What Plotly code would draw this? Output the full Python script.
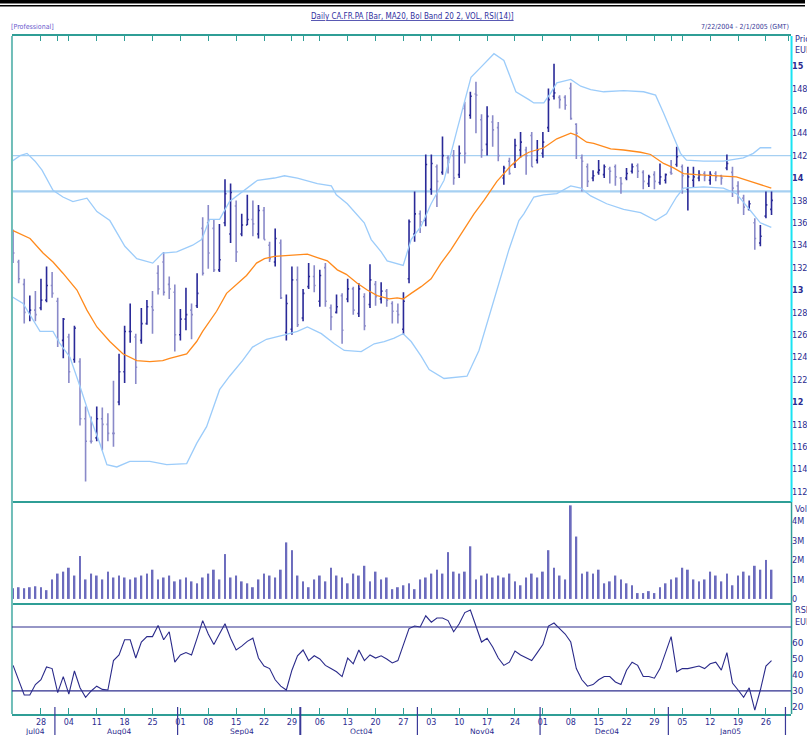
import plotly.graph_objects as go

# ---------------- data ----------------
bar_idx = list(range(137))
opens = [13.45,13.25,13.05,12.80,12.82,12.84,12.91,13.04,12.90,12.55,12.58,12.38,12.36,11.85,11.65,11.68,11.85,11.80,11.72,12.00,
         12.27,12.63,12.58,12.55,12.70,12.85,13.15,13.25,13.05,12.98,12.60,12.74,12.82,12.86,13.55,13.60,13.55,13.18,13.60,13.50,
         13.75,13.50,13.58,13.63,13.50,13.71,13.40,13.25,13.42,12.62,12.65,13.09,12.75,13.03,13.12,12.90,13.20,12.84,12.80,12.95,
         12.92,13.01,12.79,12.94,12.87,13.05,12.92,12.99,12.88,12.81,12.65,13.10,13.50,13.68,13.62,13.90,14.10,14.05,14.18,14.20,
         14.03,14.62,14.56,14.75,14.52,14.30,14.50,14.45,14.00,14.15,14.12,14.25,14.25,14.38,14.16,14.22,14.45,14.73,14.72,14.72,
         14.80,14.48,14.18,14.10,14.00,14.05,14.03,14.08,14.10,14.00,14.00,14.06,14.11,14.05,13.95,14.03,13.96,13.98,14.05,14.12,
         14.10,13.90,13.98,14.00,14.04,13.98,14.04,14.02,14.09,14.05,13.93,13.82,13.72,13.60,13.42,13.66,13.72]
highs = [13.54,13.27,13.10,12.95,12.99,13.10,13.21,13.16,12.93,12.75,12.61,12.68,12.39,11.96,11.87,11.96,11.95,11.90,12.19,12.43,
         12.68,12.88,12.61,12.84,12.91,12.99,13.22,13.34,13.12,13.05,12.83,13.02,12.88,13.15,13.65,13.76,13.63,13.59,13.99,13.95,
         13.80,13.68,13.85,13.80,13.76,13.74,13.43,13.55,13.45,12.96,13.21,13.21,13.01,13.24,13.22,13.18,13.24,12.87,12.96,12.97,
         13.10,13.03,13.06,12.97,13.23,13.08,13.07,13.01,12.90,12.88,12.98,13.63,13.88,13.71,14.21,14.21,14.12,14.37,14.20,14.25,
         14.29,14.68,14.77,14.86,14.57,14.64,14.56,14.50,14.11,14.18,14.35,14.41,14.28,14.41,14.34,14.41,14.80,15.02,14.74,14.74,
         14.85,14.49,14.21,14.13,14.07,14.16,14.12,14.10,14.12,14.01,14.09,14.13,14.13,14.07,14.03,14.06,14.13,14.04,14.16,14.28,
         14.12,14.10,14.10,14.07,14.06,14.06,14.06,14.03,14.21,14.10,13.97,13.85,13.80,13.64,13.58,13.88,13.88]
lows = [13.24,13.06,12.70,12.72,12.72,12.82,12.89,12.93,12.49,12.39,12.17,12.35,11.79,11.29,11.63,11.65,11.57,11.65,11.60,11.97,
        12.17,12.53,12.16,12.52,12.69,12.61,12.96,12.95,12.92,12.45,12.55,12.64,12.56,12.84,13.13,13.19,13.16,13.16,13.57,13.42,
        13.25,13.48,13.58,13.48,13.46,13.45,13.25,13.21,12.92,12.55,12.60,12.67,12.72,13.01,12.98,12.85,12.85,12.64,12.79,12.52,
        12.89,12.78,12.76,12.64,12.84,12.86,12.88,12.85,12.70,12.70,12.60,13.06,13.43,13.51,13.57,13.85,13.74,14.03,14.04,13.94,
        14.00,14.13,14.53,14.40,14.18,14.20,14.28,14.15,13.94,14.03,14.09,14.18,14.03,14.10,14.13,14.18,14.41,14.70,14.62,14.61,
        14.52,14.17,13.88,13.92,13.97,14.03,14.00,13.95,13.93,13.86,13.98,14.04,14.00,13.90,13.92,13.90,13.94,13.95,14.03,14.10,
        13.86,13.71,13.92,13.97,13.97,13.94,13.97,13.94,14.07,13.83,13.77,13.67,13.71,13.36,13.39,13.64,13.67]
closes = [13.33,13.10,12.80,12.82,12.78,12.91,13.04,12.97,12.55,12.74,12.27,12.66,11.85,11.65,11.65,11.85,11.80,11.72,11.72,12.27,
          12.63,12.63,12.31,12.70,12.85,12.82,13.01,12.98,13.01,12.60,12.74,12.78,12.78,12.97,13.15,13.33,13.18,13.27,13.86,13.87,
          13.34,13.58,13.63,13.59,13.71,13.45,13.28,13.46,12.93,12.88,13.09,12.69,12.97,13.12,13.04,13.13,12.90,12.76,12.85,12.64,
          13.01,12.82,13.01,12.68,13.09,12.94,12.99,12.91,12.81,12.78,12.90,13.61,13.68,13.61,14.12,14.13,13.97,14.20,14.14,14.00,
          14.22,14.22,14.73,14.74,14.25,14.55,14.43,14.20,14.09,14.04,14.29,14.32,14.20,14.10,14.25,14.32,14.70,14.76,14.70,14.65,
          14.53,14.40,14.15,13.97,14.02,14.07,14.10,14.06,14.01,13.95,14.04,14.10,14.06,13.97,14.01,13.97,14.01,14.03,14.04,14.19,
          14.02,14.01,14.01,14.03,14.02,14.03,14.01,14.00,14.13,13.91,13.88,13.74,13.77,13.46,13.48,13.76,13.80]
volume_m = [0.55,0.6,0.55,0.6,0.65,0.6,0.45,1.0,1.3,1.4,1.6,1.2,2.2,1.0,1.3,1.2,1.0,1.4,1.1,1.2,
            1.1,1.0,1.1,1.2,1.3,1.5,1.0,1.1,1.2,0.9,1.0,1.1,0.9,0.8,1.1,1.3,1.5,1.0,2.3,1.1,
            1.2,0.9,0.8,0.6,1.0,1.3,1.2,1.1,1.5,2.9,2.5,1.2,0.9,0.6,1.0,1.2,0.9,1.6,1.2,1.1,
            0.8,1.3,1.2,1.7,0.9,1.4,1.0,1.1,0.5,0.6,0.7,0.8,0.5,1.0,1.1,1.3,1.5,1.3,2.4,1.4,
            1.3,1.4,2.7,1.0,1.2,1.3,1.1,1.2,1.1,1.3,0.9,0.7,1.1,1.3,1.1,1.4,2.5,1.6,1.2,1.0,
            4.8,3.2,1.3,1.4,1.3,1.5,0.8,0.9,1.2,1.0,0.8,0.7,0.3,0.3,0.4,0.3,0.6,0.8,1.0,1.1,
            1.6,1.5,1.0,0.9,1.0,1.4,1.2,0.9,1.3,0.7,1.2,1.4,1.2,1.7,1.5,2.0,1.5]
rsi = [46,37,27.5,27.5,34,37,45,44,29,39,28,42.5,32,26,30,33,31,30.6,49,52.5,
       62,62,50.6,60.6,64,64,71,62,67,48,52.5,54,52.5,63,74,65.6,59,65.6,72,63,
       55.6,58,61,63,50.6,45.6,44,37,33,30.6,43,52,55.6,49,52,50,46,44,42,39,
       50.6,47,55.6,49,52.5,50.6,52,50,47.5,49,59,69,70.6,70,77,73,75.6,75.6,74,67,
       72,79,80.6,71,60.6,63,57.5,50.6,46,48,55,52.5,50.6,49,54,59,70.6,72.5,69,65.6,
       60.6,44,37,33,34,37,39,39,35.6,34,43,48,46,39,39,38,44,54,64,42,
       44,44,45,45.6,44,47,48,43,54,35,30.6,26,32,18,30.6,45.6,49]

ma_x = [0,3.04,5.37,7.16,8.94,11.45,13.24,15.03,17.35,19.68,22.18,24.51,26.83,28.09,31.13,32.92,33.99,36.49,38.28,40.61,
        41.86,43.65,45.08,46.87,49.91,52.77,54.56,56.35,58.14,59.75,61.72,63.51,65.30,67.44,68.87,69.95,71.38,73.17,74.96,76.74,
        78.53,80.86,82.65,84.44,86.76,89.27,91.06,92.49,93.92,95.17,97.50,100.0,101.07,102.86,104.11,107.16,109.48,112.52,114.31,116.64,
        118.43,120.21,122.54,126.12,129.70,132.20,133.99,135.96]
ma_y = [13.53,13.46,13.33,13.25,13.15,13.00,12.82,12.67,12.54,12.43,12.37,12.36,12.37,12.39,12.43,12.54,12.63,12.81,12.97,13.07,
        13.13,13.24,13.28,13.30,13.31,13.32,13.29,13.26,13.18,13.14,13.06,13.00,12.95,12.92,12.93,12.92,12.97,13.03,13.10,13.24,
        13.36,13.54,13.68,13.80,13.97,14.11,14.19,14.23,14.25,14.27,14.35,14.40,14.38,14.32,14.31,14.26,14.25,14.23,14.21,14.13,
        14.09,14.04,14.03,14.02,14.01,13.97,13.94,13.91]
up_x = [-0.18,1.25,2.5,3.94,5.19,7.16,8.94,10.73,13.24,15.03,17.35,20.04,22.18,25.04,26.83,29.34,32.20,33.81,35.24,37.03,
        38.82,41.14,43.83,46.87,48.66,50.98,54.56,57.07,57.96,59.93,62.97,64.22,66.01,67.08,69.95,71.38,73.17,74.96,77.28,79.61,
        82.11,83.90,86.23,88.01,90.16,92.49,93.38,95.17,96.42,97.50,100.0,101.79,103.58,105.90,109.48,113.06,115.21,116.64,118.43,119.68,
        120.75,123.79,127.37,130.95,132.74,133.99,135.96]
up_y = [14.15,14.20,14.22,14.15,14.07,13.89,13.83,13.79,13.82,13.70,13.62,13.39,13.28,13.24,13.33,13.34,13.40,13.45,13.63,13.63,
        13.79,13.88,13.98,14.00,14.02,14.00,13.95,13.93,13.85,13.77,13.60,13.45,13.34,13.26,13.22,13.45,13.57,13.77,13.98,14.43,
        14.90,14.99,15.11,15.05,14.77,14.70,14.67,14.67,14.76,14.85,14.88,14.82,14.79,14.77,14.78,14.77,14.74,14.58,14.37,14.22,
        14.16,14.15,14.15,14.18,14.22,14.27,14.27]
lo_x = [-0.18,1.79,4.83,7.16,8.41,10.20,11.99,13.77,15.56,16.82,18.60,20.93,24.51,27.55,31.13,32.92,34.70,37.03,38.82,41.14,
        42.93,45.44,48.66,50.98,52.77,55.28,57.60,59.39,62.43,64.76,66.55,68.34,69.95,71.38,73.17,74.60,77.28,81.40,83.54,86.23,
        88.91,90.70,91.59,93.38,95.17,97.50,100.0,101.79,103.58,106.44,109.48,112.52,115.21,117.17,118.96,120.21,123.79,127.37,129.70,132.20,
        133.99,135.96]
lo_y = [12.94,12.88,12.63,12.63,12.52,12.40,12.14,11.87,11.63,11.44,11.42,11.47,11.47,11.44,11.45,11.63,11.78,12.11,12.23,12.37,
        12.49,12.56,12.60,12.63,12.67,12.61,12.52,12.46,12.45,12.52,12.54,12.57,12.61,12.54,12.41,12.29,12.21,12.23,12.46,12.91,
        13.36,13.62,13.68,13.83,13.85,13.86,13.93,13.91,13.84,13.77,13.72,13.69,13.62,13.68,13.83,13.91,13.92,13.91,13.86,13.71,
        13.60,13.56]
hlines = [14.20, 13.88]

price_ticks = [15.0,14.8,14.6,14.4,14.2,14.0,13.8,13.6,13.4,13.2,13.0,12.8,12.6,12.4,12.2,12.0,11.8,11.6,11.4,11.2]
price_labels = ["<b>15</b>","148","146","144","142","<b>14</b>","138","136","134","132","<b>13</b>","128","126","124","122",
                "<b>12</b>","118","116","114","112"]
vol_ticks = [0, 1, 2, 3, 4]
vol_labels = ["0", "1M", "2M", "3M", "4M"]
rsi_ticks = [20, 30, 40, 50, 60]
rsi_levels = [70, 30]
week_pos = [5,10,15,20,25,30,35,40,45,50,55,60,65,70,75,80,85,90,95,100,105,110,115,120,125,130,135]
week_labels = ["28","04","11","18","25","01","08","15","22","29","06","13","20","27","03","10","17","24","01","08",
               "15","22","29","05","12","19","26"]
month_pos = [4, 19, 41, 62.5, 84, 106.5, 128.5]
month_labels = ["Jul04", "Aug04", "Sep04", "Oct04", "Nov04", "Dec04", "Jan05"]
month_bounds = [8, 30, 52, 73, 95, 118, 139]

# ---------------- layout helpers ----------------
W, H = 807, 735
def py(p):
    return 1 - p / H
def px(p):
    return p / W

NAVY = "#2b2b8f"
TEAL = "#2f9e96"
CYAN = "#19e3f2"
XR = [-0.2, 139.5]
XD = [px(12), px(793)]
FONT_N = "Liberation Sans Narrow, DejaVu Sans Condensed, Arial Narrow, sans-serif"

fig = go.Figure()
fig.add_trace(go.Ohlc(x=bar_idx, open=opens, high=highs, low=lows, close=closes,
                      increasing=dict(line=dict(color="#2a2a98", width=1.6)),
                      decreasing=dict(line=dict(color="#8a8ac9", width=1.6)),
                      tickwidth=0.25, xaxis="x", yaxis="y", showlegend=False))
fig.add_trace(go.Scatter(x=up_x, y=up_y, mode="lines", line=dict(color="#9cccfa", width=1.3),
                         xaxis="x", yaxis="y", showlegend=False))
fig.add_trace(go.Scatter(x=lo_x, y=lo_y, mode="lines", line=dict(color="#9cccfa", width=1.3),
                         xaxis="x", yaxis="y", showlegend=False))
fig.add_trace(go.Scatter(x=ma_x, y=ma_y, mode="lines", line=dict(color="#ff8a1c", width=1.3),
                         xaxis="x", yaxis="y", showlegend=False))
fig.add_trace(go.Bar(x=bar_idx, y=[v * 1e6 for v in volume_m], width=0.33,
                     marker=dict(color="#6b6bbd", line=dict(width=0)), xaxis="x2", yaxis="y2", showlegend=False))
fig.add_trace(go.Scatter(x=bar_idx, y=rsi, mode="lines", line=dict(color="#2a2a8a", width=1.1),
                         xaxis="x3", yaxis="y3", showlegend=False))

tickfont = dict(family=FONT_N, size=9, color=NAVY)
fig.update_layout(
    width=W, height=H, margin=dict(l=0, r=0, t=0, b=0),
    paper_bgcolor="white", plot_bgcolor="white", showlegend=False,
    xaxis=dict(domain=XD, range=XR, anchor="y", side="top", showline=True, linecolor=TEAL, linewidth=1.5,
               ticks="inside", ticklen=5, tickcolor=TEAL, tickvals=week_pos + month_bounds, showticklabels=False,
               showgrid=False, zeroline=False, rangeslider=dict(visible=False), fixedrange=True),
    yaxis=dict(domain=[py(502), py(36)], range=[11.107, 15.268], side="right", anchor="x",
               showline=False, ticks="", tickvals=price_ticks, ticktext=price_labels, tickfont=tickfont,
               showgrid=False, zeroline=False),
    xaxis2=dict(domain=XD, range=XR, anchor="y2", side="top", showline=True, linecolor=TEAL, linewidth=1.5,
                ticks="", showticklabels=False, showgrid=False, zeroline=False),
    yaxis2=dict(domain=[py(604), py(503)], range=[-0.26e6, 4.92e6], side="right", anchor="x2",
                showline=False, ticks="", tickvals=[v * 1e6 for v in vol_ticks], ticktext=vol_labels,
                tickfont=dict(family=FONT_N, size=9, color=NAVY), showgrid=False, zeroline=False),
    xaxis3=dict(domain=XD, range=XR, anchor="y3", side="bottom", showline=True, mirror=True, linecolor=TEAL,
                linewidth=1.5, ticks="inside", ticklen=6, tickcolor=TEAL, tickvals=week_pos, ticktext=week_labels,
                tickfont=dict(family="DejaVu Sans", size=8, color=NAVY), showgrid=False, zeroline=False),
    yaxis3=dict(domain=[py(714), py(605)], range=[15.6, 83.75], side="right", anchor="x3",
                showline=False, ticks="", tickvals=rsi_ticks, ticktext=[str(t) for t in rsi_ticks],
                tickfont=dict(family="DejaVu Sans", size=9, color=NAVY), showgrid=False, zeroline=False),
)

shapes = []
shapes.append(dict(type="rect", xref="paper", yref="paper", x0=0, x1=1, y0=py(3.5), y1=1,
                   fillcolor="black", line=dict(width=0)))
shapes.append(dict(type="line", xref="paper", yref="paper", x0=0, x1=1, y0=py(5.8), y1=py(5.8),
                   line=dict(color="black", width=1.5)))
shapes.append(dict(type="line", xref="paper", yref="paper", x0=px(12), x1=px(12), y0=py(714), y1=py(36),
                   line=dict(color="#6fbdb8", width=2)))
shapes.append(dict(type="line", xref="paper", yref="paper", x0=px(793.5), x1=px(793.5), y0=py(502), y1=py(36),
                   line=dict(color=CYAN, width=2)))
shapes.append(dict(type="line", xref="paper", yref="paper", x0=px(793.5), x1=px(793.5), y0=py(714), y1=py(502),
                   line=dict(color=TEAL, width=1.5)))
for i, h in enumerate(hlines):
    shapes.append(dict(type="line", xref="paper", yref="y", x0=XD[0], x1=XD[1], y0=h, y1=h,
                       line=dict(color="#a6d0f2", width=1.2 if i == 0 else 2.2), layer="below"))
for lv in rsi_levels:
    shapes.append(dict(type="line", xref="paper", yref="y3", x0=XD[0], x1=XD[1], y0=lv, y1=lv,
                       line=dict(color="#2e2e8e", width=1.2)))
for k, b in enumerate(month_bounds):
    shapes.append(dict(type="line", xref="x3", yref="paper", x0=b - 0.5, x1=b - 0.5, y0=0, y1=py(707),
                       line=dict(color="#3a3a98", width=2 if k == 2 else 1.2)))
fig.update_layout(shapes=shapes)

ann = []
ann.append(dict(text="<u>Daily CA.FR.PA [Bar, MA20, Bol Band 20 2, VOL, RSI(14)]</u>", xref="paper", yref="paper",
                x=px(414), y=py(17), xanchor="center", yanchor="middle", showarrow=False,
                font=dict(family=FONT_N, size=8, color="#3030a0")))
ann.append(dict(text="[Professional]", xref="paper", yref="paper", x=px(9), y=py(27), xanchor="left",
                yanchor="middle", showarrow=False, font=dict(family=FONT_N, size=7, color="#6a5acd")))
ann.append(dict(text="7/22/2004 - 2/1/2005 (GMT)", xref="paper", yref="paper", x=px(793), y=py(27), xanchor="right",
                yanchor="middle", showarrow=False, font=dict(family=FONT_N, size=7, color="#3a3a98")))
for t, yy in [("Price", 39), ("EUR", 50), ("Vol", 509), ("RSI", 610), ("EUR", 622)]:
    ann.append(dict(text=t, xref="paper", yref="paper", x=px(795), y=py(yy), xanchor="left", yanchor="middle",
                    showarrow=False, font=dict(family=FONT_N, size=9, color=NAVY)))
for p, lab in zip(month_pos, month_labels):
    ann.append(dict(text=lab, xref="x3", yref="paper", x=p, y=py(731.5), xanchor="center", yanchor="middle",
                    showarrow=False, font=dict(family="DejaVu Sans", size=7.5, color=NAVY)))
fig.update_layout(annotations=ann)

fig.write_html("out.html", config={"displayModeBar": False},
               post_script="document.body.style.margin='0';document.body.style.overflow='hidden';")
